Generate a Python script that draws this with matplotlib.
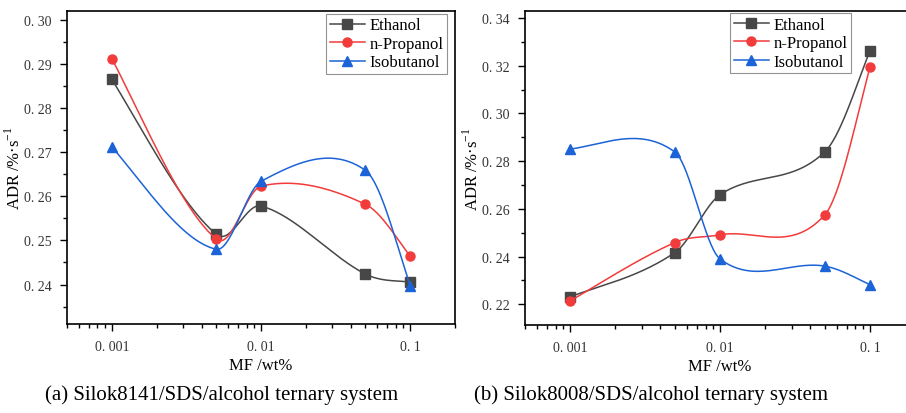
import matplotlib
import matplotlib.pyplot as plt
import numpy as np
from matplotlib.ticker import FixedLocator, FuncFormatter, MultipleLocator, LogLocator, NullFormatter

matplotlib.rc('font', family='Liberation Serif', size=11)

mf = [0.001, 0.005, 0.01, 0.05, 0.1]
series_names = ['Ethanol', 'n-Propanol', 'Isobutanol']

# (a) Silok8141/SDS/alcohol
a_ethanol = [0.2865, 0.2514, 0.2578, 0.2424, 0.2406]
a_propanol = [0.2912, 0.2503, 0.2623, 0.2582, 0.2464]
a_isobutanol = [0.2712, 0.2480, 0.2634, 0.2659, 0.2397]

# (b) Silok8008/SDS/alcohol
b_ethanol = [0.2232, 0.2417, 0.2659, 0.2839, 0.3263]
b_propanol = [0.2214, 0.2459, 0.2491, 0.2575, 0.3195]
b_isobutanol = [0.2850, 0.2838, 0.2390, 0.2360, 0.2282]

colors = ['#474747', '#f23b3b', '#1b63d6']
markers = ['s', 'o', '^']


def smooth(x, y, n=60):
    # Hermite curve in log10(x) through the points (smoothed connector of the source plot)
    t = np.log10(x)
    y = np.asarray(y, dtype=float)
    k = len(t)
    m = np.zeros(k)
    for i in range(1, k - 1):
        m[i] = (y[i + 1] - y[i - 1]) / (t[i + 1] - t[i - 1])
    m[0] = 1.25 * (y[1] - y[0]) / (t[1] - t[0]) - 0.25 * m[1]
    m[-1] = 1.25 * (y[-1] - y[-2]) / (t[-1] - t[-2]) - 0.25 * m[-2]
    xs, ys = [], []
    for i in range(k - 1):
        h = t[i + 1] - t[i]
        s = np.linspace(0, 1, n)
        h00 = 2 * s ** 3 - 3 * s ** 2 + 1
        h10 = s ** 3 - 2 * s ** 2 + s
        h01 = -2 * s ** 3 + 3 * s ** 2
        h11 = s ** 3 - s ** 2
        xs.append(10 ** (t[i] + s * h))
        ys.append(h00 * y[i] + h10 * h * m[i] + h01 * y[i + 1] + h11 * h * m[i + 1])
    return np.concatenate(xs), np.concatenate(ys)


fig = plt.figure(figsize=(9.06, 4.14), dpi=100)
ax1 = fig.add_axes([0.0740, 0.2143, 0.4283, 0.7568])
ax2 = fig.add_axes([0.5795, 0.2118, 0.4305, 0.7592])

panels = [
    (ax1, [a_ethanol, a_propanol, a_isobutanol], (0.231, 0.302), 0.01, 0.005,
     '(a) Silok8141/SDS/alcohol ternary system', 0.244, (0.979, 0.990)),
    (ax2, [b_ethanol, b_propanol, b_isobutanol], (0.2112, 0.3429), 0.02, 0.01,
     '(b) Silok8008/SDS/alcohol ternary system', 0.719, (0.836, 0.993)),
]

for ax, data, ylim, major, minor, caption, cx, anchor in panels:
    for vals, name, col, mk in zip(data, series_names, colors, markers):
        xs, ys = smooth(mf, vals)
        ax.plot(xs, ys, color=col, lw=1.1)
        ax.plot(mf, vals, ls='none', marker=mk, color=col, ms=6.5)
        ax.plot([], [], color=col, lw=1.1, marker=mk, ms=6.5, label=name)
    ax.set_xscale('log')
    ax.set_xlim(0.0005, 0.2)
    ax.set_ylim(*ylim)
    ax.xaxis.set_major_locator(FixedLocator([0.001, 0.01, 0.1]))
    ax.xaxis.set_major_formatter(FuncFormatter(lambda v, p: {0.001: '0. 001', 0.01: '0. 01', 0.1: '0. 1'}.get(round(v, 4), '')))
    ax.xaxis.set_minor_locator(LogLocator(base=10, subs=np.arange(2, 10)))
    ax.xaxis.set_minor_formatter(NullFormatter())
    ax.yaxis.set_major_locator(MultipleLocator(major))
    ax.yaxis.set_minor_locator(MultipleLocator(minor))
    ax.yaxis.set_major_formatter(FuncFormatter(lambda v, p: ('%.2f' % v).replace('.', '. ')))
    ax.tick_params(which='major', direction='out', length=5, width=1, labelsize=10, labelcolor='#333333', pad=6)
    ax.tick_params(which='minor', direction='out', length=3, width=1)
    for s in ax.spines.values():
        s.set_linewidth(1.2)
    ax.set_xlabel('MF /wt%', fontsize=12, labelpad=3)
    ax.set_ylabel('ADR /%·s$^{\\mathregular{-1}}$', fontsize=12, labelpad=0)
    leg = ax.legend(loc='upper right', bbox_to_anchor=anchor, fontsize=12, frameon=True, fancybox=False,
                    edgecolor='#777777', handlelength=2.1, borderpad=0.2, labelspacing=0.15,
                    handletextpad=0.3, borderaxespad=0)
    leg.get_frame().set_linewidth(0.8)
    fig.text(cx, 0.045, caption, fontsize=15, ha='center', va='center')

fig.savefig('out.png', dpi=100)
